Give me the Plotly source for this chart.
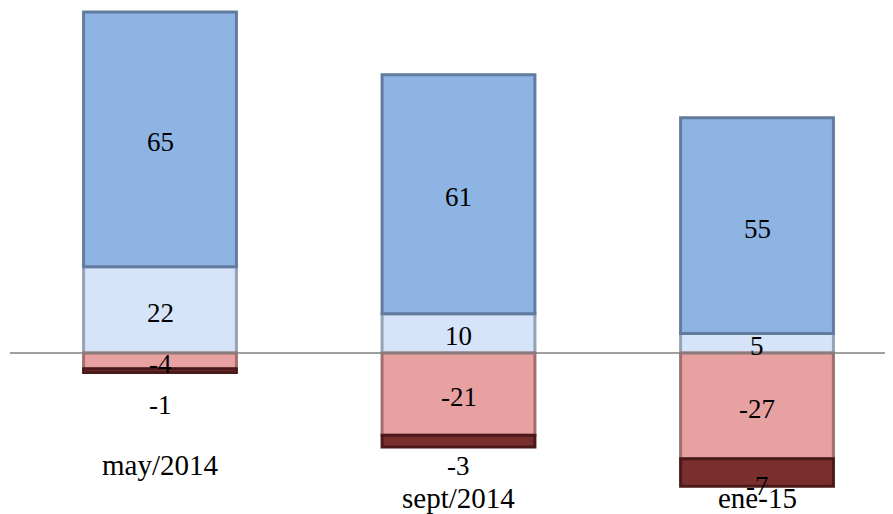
import plotly.graph_objects as go

# categories and series values
periods = ["may/2014", "sept/2014", "ene-15"]
pos_low = [22, 10, 5]      # light blue, sits on zero
pos_high = [65, 61, 55]    # blue, on top
neg_mid = [-4, -21, -27]   # pink, just below zero
neg_low = [-1, -3, -7]     # dark red, bottom

x = [0, 1, 2]
font = dict(family="Liberation Serif", size=27, color="black")
cat_font = dict(family="Liberation Serif", size=29, color="black")

fig = go.Figure()
fig.add_bar(x=x, y=pos_low, marker=dict(color="#d6e4f9", line=dict(color="#95a3b8", width=3)))
fig.add_bar(x=x, y=pos_high, marker=dict(color="#8eb4e3", line=dict(color="#627b9e", width=3)))
fig.add_bar(x=x, y=neg_mid, marker=dict(color="#e6a1a0", line=dict(color="#a07070", width=3)))
fig.add_bar(x=x, y=neg_low, marker=dict(color="#7a2f2f", line=dict(color="#4a1a1a", width=3)))

# labels in the middle of the segments
for i in x:
    fig.add_annotation(x=i, y=pos_low[i] / 2, text=str(pos_low[i]), showarrow=False, font=font, yshift=-3)
    fig.add_annotation(x=i, y=pos_low[i] + pos_high[i] / 2, text=str(pos_high[i]), showarrow=False,
                       font=font, yshift=-3)
    fig.add_annotation(x=i, y=neg_mid[i] / 2, text=str(neg_mid[i]), showarrow=False, font=font, yshift=-3)

# dark red values sit under the bars (Excel put them at uneven heights)
low_lab_y = [-13.3, -28.8, -34.0]
for i in x:
    fig.add_annotation(x=i, y=low_lab_y[i], text=str(neg_low[i]), showarrow=False, font=font)

# category labels, placed under each stack
cat_y = [-28.6, -36.9, -36.9]
for i, lab in enumerate(periods):
    fig.add_annotation(x=i, y=cat_y[i], text=lab, showarrow=False, font=cat_font)

fig.add_hline(y=0, line=dict(color="#808080", width=1.5))

# page body has an 8px margin, so the figure is 8px smaller than the window
fig.update_layout(
    barmode="relative",
    bargap=0.488,
    width=885, height=506,
    margin=dict(l=2, r=0, t=0, b=0),
    plot_bgcolor="white", paper_bgcolor="white",
    showlegend=False,
    xaxis=dict(range=[-0.5025, 2.4556], visible=False),
    yaxis=dict(range=[-41.07, 88.01], visible=False),
)

fig.write_html("out.html")
